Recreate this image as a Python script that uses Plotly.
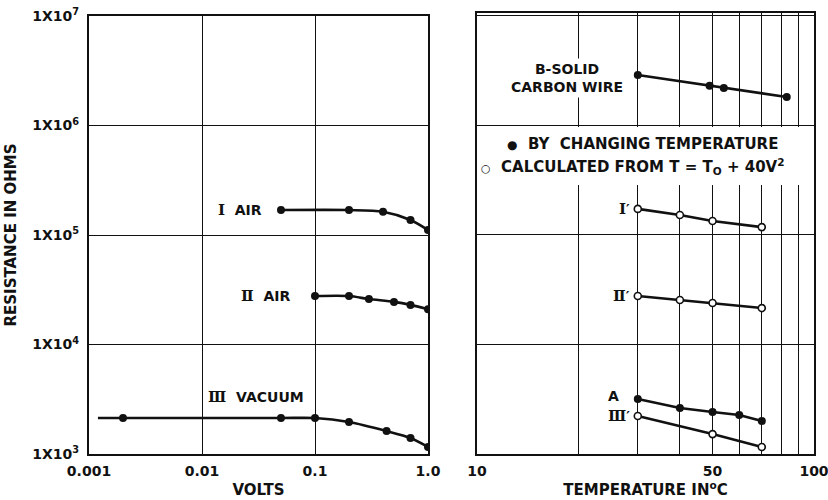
import numpy as np
import plotly.graph_objects as go

# ---- Resistance vs applied voltage (left panel) ----
air1_volts = [0.05, 0.2, 0.4, 0.7, 1.0]
air1_ohms = [1.69e5, 1.69e5, 1.63e5, 1.37e5, 1.11e5]

air2_volts = [0.1, 0.2, 0.3, 0.5, 0.7, 1.0]
air2_ohms = [2.77e4, 2.77e4, 2.6e4, 2.45e4, 2.3e4, 2.1e4]

vac_line_start_volts = 0.0012
vac_volts = [0.002, 0.05, 0.1, 0.2, 0.43, 0.7, 1.0]
vac_ohms = [2.13e3, 2.13e3, 2.13e3, 1.96e3, 1.62e3, 1.4e3, 1.16e3]

# ---- Resistance vs temperature (right panel) ----
carbon_temp = [30, 49, 54, 83]
carbon_ohms = [2.89e6, 2.30e6, 2.2e6, 1.82e6]

calc_temp = [30, 40, 50, 70]
calc1_ohms = [1.73e5, 1.52e5, 1.34e5, 1.18e5]
calc2_ohms = [2.77e4, 2.55e4, 2.39e4, 2.15e4]

a_temp = [30, 40, 50, 60, 70]
a_ohms = [3.18e3, 2.63e3, 2.42e3, 2.27e3, 2.0e3]

calc3_temp = [30, 50, 70]
calc3_ohms = [2.22e3, 1.52e3, 1.16e3]

volt_ticks = [0.001, 0.01, 0.1, 1.0]
volt_labels = ["0.001", "0.01", "0.1", "1.0"]
temp_ticks = [10, 50, 100]
temp_labels = ["10", "50", "100"]
temp_grid = [20, 30, 40, 60, 70, 80, 90]
ohm_ticks = [1e3, 1e4, 1e5, 1e6, 1e7]
ohm_labels = ["1X10<sup>%d</sup>" % int(np.log10(v)) for v in ohm_ticks]

FONT = "DejaVu Sans"
SERIF = "DejaVu Serif"
INK = "#111111"
LW = 2.6
FS = 14

fig = go.Figure()


def curve(x, y, xa, ya, shape="linear"):
    fig.add_trace(go.Scatter(x=x, y=y, mode="lines", xaxis=xa, yaxis=ya,
                             line=dict(color=INK, width=LW, shape=shape, smoothing=0.8),
                             showlegend=False, hoverinfo="skip"))


def dots(x, y, xa, ya, filled=True):
    fig.add_trace(go.Scatter(
        x=x, y=y, mode="markers", xaxis=xa, yaxis=ya, showlegend=False,
        marker=dict(symbol="circle", size=8 if filled else 7,
                    color=INK if filled else "white",
                    line=dict(color=INK, width=0 if filled else 1.6))))


# left panel curves
curve(air1_volts, air1_ohms, "x", "y", "spline")
dots(air1_volts, air1_ohms, "x", "y")
curve(air2_volts, air2_ohms, "x", "y", "spline")
dots(air2_volts, air2_ohms, "x", "y")
curve([vac_line_start_volts] + vac_volts, [vac_ohms[0]] + vac_ohms, "x", "y", "spline")
dots(vac_volts, vac_ohms, "x", "y")

# right panel lines
curve(carbon_temp, carbon_ohms, "x2", "y2")
dots(carbon_temp, carbon_ohms, "x2", "y2")
curve(calc_temp, calc1_ohms, "x2", "y2")
dots(calc_temp, calc1_ohms, "x2", "y2", filled=False)
curve(calc_temp, calc2_ohms, "x2", "y2")
dots(calc_temp, calc2_ohms, "x2", "y2", filled=False)
curve(a_temp, a_ohms, "x2", "y2")
dots(a_temp, a_ohms, "x2", "y2")
curve(calc3_temp, calc3_ohms, "x2", "y2")
dots(calc3_temp, calc3_ohms, "x2", "y2", filled=False)

text_font = dict(family=FONT, size=FS, color=INK, weight="bold")
title_font = dict(text_font, size=15)

axis_common = dict(type="log", showline=True, mirror=True, linecolor=INK, linewidth=2.2,
                   showgrid=True, gridcolor=INK, gridwidth=1.3, ticks="", zeroline=False,
                   automargin=False, ticklabeloverflow="allow", tickfont=text_font)

fig.update_layout(
    width=828, height=500,
    margin=dict(l=0, r=0, t=0, b=0),
    paper_bgcolor="white", plot_bgcolor="white",
    font=text_font,
    xaxis=dict(axis_common, domain=[89 / 828, 428 / 828], range=[-3, 0],
               tickvals=volt_ticks, ticktext=volt_labels, anchor="y",
               ticklabelstandoff=3,
               title=dict(text="VOLTS", standoff=7, font=title_font)),
    yaxis=dict(axis_common, domain=[46 / 500, 484 / 500], range=[3, 7],
               tickvals=ohm_ticks, ticktext=ohm_labels, anchor="x",
               ticklabelstandoff=5,
               title=dict(text="RESISTANCE IN OHMS", standoff=12, font=title_font)),
    xaxis2=dict(axis_common, domain=[477 / 828, 814 / 828], range=[1, 2],
                tickvals=temp_ticks, ticktext=temp_labels, anchor="y2",
                ticklabelstandoff=3,
                minor=dict(tickvals=temp_grid, showgrid=True, gridcolor=INK,
                           gridwidth=1.3, ticks=""),
                title=dict(text="TEMPERATURE IN<sup>o</sup>C", standoff=7,
                           font=title_font)),
    yaxis2=dict(axis_common, domain=[46 / 500, 487 / 500], range=[3, 7.027],
                tickvals=ohm_ticks, showticklabels=False, anchor="x2"),
)

# blank panel behind the symbol key
fig.add_shape(type="rect", xref="paper", yref="paper",
              x0=479 / 828, x1=812 / 828, y0=(500 - 185) / 500, y1=(500 - 127) / 500,
              fillcolor="white", line=dict(width=0), layer="above")

L = np.log10


def label(text, xa, ya, x, y, xshift=0, yshift=0, xanchor="right", bg=None, align="left"):
    fig.add_annotation(text=text, xref=xa, yref=ya, x=L(x), y=L(y), xshift=xshift,
                       yshift=yshift, xanchor=xanchor, yanchor="middle", showarrow=False,
                       align=align, font=text_font, bgcolor=bg, borderpad=2)


def roman(n):
    return '<span style="font-family:%s;font-size:15px">%s</span>' % (SERIF, n)


label(roman("Ⅰ") + "  AIR", "x", "y", air1_volts[0], air1_ohms[0], xshift=-16)
label(roman("Ⅱ") + "  AIR", "x", "y", air2_volts[0], air2_ohms[0], xshift=-22)
label(roman("Ⅲ") + "  VACUUM", "x", "y", vac_volts[2], vac_ohms[2], xshift=-8, yshift=21)

label("B-SOLID<br>CARBON WIRE", "x2", "y2", carbon_temp[0], carbon_ohms[0],
      xshift=-12, yshift=-3, bg="white", align="center")
label(roman("Ⅰ") + "′", "x2", "y2", calc_temp[0], calc1_ohms[0], xshift=-5)
label(roman("Ⅱ") + "′", "x2", "y2", calc_temp[0], calc2_ohms[0], xshift=-5)
label("A", "x2", "y2", a_temp[0], a_ohms[0], xshift=-16, yshift=3)
label(roman("Ⅲ") + "′", "x2", "y2", calc3_temp[0], calc3_ohms[0], xshift=-5)

# symbol key
key_font = dict(text_font, size=15)
fig.add_annotation(text='<span style="font-size:12px">●</span>  BY  CHANGING TEMPERATURE',
                   xref="paper", yref="paper", x=505 / 828, y=(500 - 144) / 500,
                   xanchor="left", yanchor="middle", showarrow=False, font=key_font)
fig.add_annotation(text='<span style="font-size:11px">○</span>  CALCULATED FROM T = T<sub>O</sub> + 40V<sup>2</sup>',
                   xref="paper", yref="paper", x=479 / 828, y=(500 - 167) / 500,
                   xanchor="left", yanchor="middle", showarrow=False, font=key_font)

fig.write_html("out.html")
